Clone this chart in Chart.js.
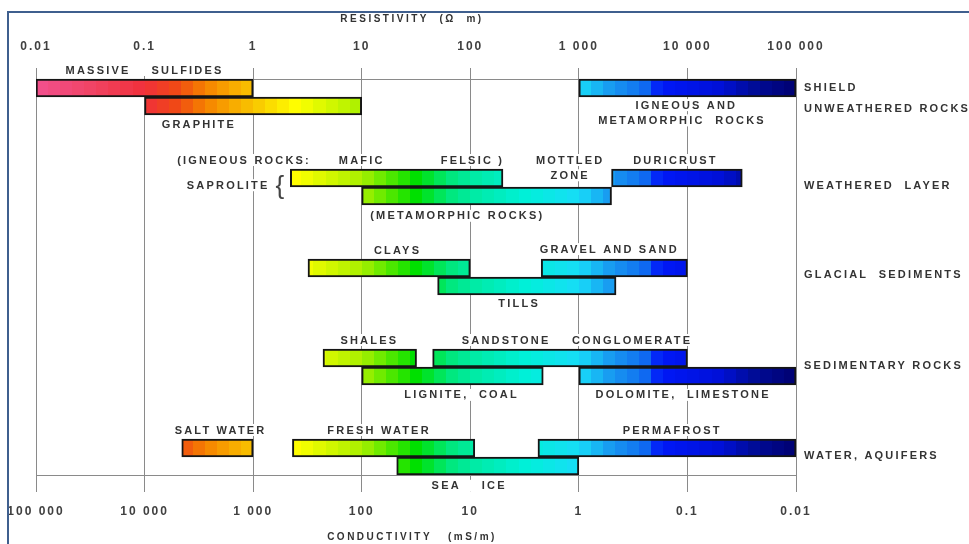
<!DOCTYPE html>
<html>
<head>
<meta charset="utf-8">
<script src="https://cdn.jsdelivr.net/npm/chart.js@4.4.0/dist/chart.umd.min.js"></script>
<style>
  html, body { margin: 0; padding: 0; background: #fff; }
  #wrap { width: 969px; height: 544px; position: relative; overflow: hidden; }
</style>
</head>
<body>
<div id="wrap"><canvas id="rockChart" width="969" height="544"></canvas></div>
<script>
// Resistividad en ohm-m, escala logaritmica; rowPos = fila (grupo + sub-fila)
const rockNames = ['Massive sulfides', 'Graphite', 'Shield', 'Saprolite (igneous)', 'Saprolite (metamorphic)', 'Duricrust',
  'Clays', 'Gravel and sand', 'Tills', 'Shales', 'Sandstone conglomerate', 'Lignite coal', 'Dolomite limestone',
  'Salt water', 'Fresh water', 'Permafrost', 'Sea ice'];
const resLow  = [0.01, 0.1, 1000, 2.2, 10, 2000, 3.2, 450, 50, 4.4, 45, 10, 1000, 0.22, 2.3, 420, 21];
const resHigh = [1, 10, 100000, 200, 2000, 32000, 100, 10000, 2200, 32, 10000, 470, 100000, 1, 110, 100000, 1000];
const rowPos  = [0, 0.2, 0, 1, 1.2, 1, 2, 2, 2.2, 3, 3, 3.2, 3.2, 4, 4, 4, 4.2];

// Ticks
const decades = [0.01, 0.1, 1, 10, 100, 1000, 10000, 100000];
const resTickLabels = ['0.01', '0.1', '1', '10', '100', '1 000', '10 000', '100 000'];
const condTickLabels = ['100 000', '10 000', '1 000', '100', '10', '1', '0.1', '0.01'];

// Grupos (texto a la derecha)
const groupNames = ['SHIELD', 'UNWEATHERED ROCKS', 'WEATHERED  LAYER', 'GLACIAL  SEDIMENTS', 'SEDIMENTARY ROCKS', 'WATER, AQUIFERS'];
const groupRows = [0, 0.23, 1.09, 2.08, 3.09, 4.09];

// Etiquetas dentro del grafico: texto, log10(resistividad), fila, alineacion
const notes = [
  ['MASSIVE    SULFIDES', -1.0, -0.2, 'center'],
  ['GRAPHITE', -0.5, 0.4, 'center'],
  ['IGNEOUS AND', 3.99, 0.19, 'center'],
  ['METAMORPHIC  ROCKS', 3.95, 0.36, 'center'],
  ['(IGNEOUS ROCKS:', -0.70, 0.8, 'left'],
  ['MAFIC', 1.0, 0.8, 'center'],
  ['FELSIC )', 2.02, 0.8, 'center'],
  ['MOTTLED', 2.92, 0.8, 'center'],
  ['ZONE', 2.92, 0.97, 'center'],
  ['DURICRUST', 3.89, 0.8, 'center'],
  ['SAPROLITE', -0.23, 1.08, 'center'],
  ['(METAMORPHIC ROCKS)', 1.88, 1.42, 'center'],
  ['CLAYS', 1.33, 1.8, 'center'],
  ['GRAVEL AND SAND', 3.28, 1.79, 'center'],
  ['TILLS', 2.45, 2.39, 'center'],
  ['SHALES', 1.07, 2.8, 'center'],
  ['SANDSTONE', 2.33, 2.8, 'center'],
  ['CONGLOMERATE', 3.49, 2.8, 'center'],
  ['LIGNITE,  COAL', 1.92, 3.41, 'center'],
  ['DOLOMITE,  LIMESTONE', 3.96, 3.41, 'center'],
  ['SALT WATER', -0.3, 3.8, 'center'],
  ['FRESH WATER', 1.16, 3.8, 'center'],
  ['PERMAFROST', 3.86, 3.8, 'center'],
  ['SEA    ICE', 1.99, 4.42, 'center']
];

// Colores segun log10(resistividad)
const colorStops = [
  [-2.0, '#f2508e'], [-1.5, '#f04466'], [-1.0, '#f0303a'], [-0.7, '#f04a14'], [-0.45, '#f58000'],
  [-0.2, '#f8a800'], [0.0, '#f8c400'], [0.4, '#ffff00'], [1.0, '#a8f000'], [1.5, '#00e000'],
  [1.8, '#00e878'], [2.0, '#00eaa0'], [2.5, '#00f0d8'], [3.0, '#18dcf8'], [3.3, '#1898f0'],
  [3.6, '#1070f0'], [3.75, '#0018f8'], [4.3, '#0010d8'], [4.6, '#000c98'], [5.0, '#000070']
];

function hexToRgb(h) {
  const n = parseInt(h.slice(1), 16);
  return [(n >> 16) & 255, (n >> 8) & 255, n & 255];
}

function colorAt(lg) {
  for (let i = 1; i < colorStops.length; i++) {
    const [l0, c0] = colorStops[i - 1];
    const [l1, c1] = colorStops[i];
    if (lg <= l1) {
      const t = Math.max(0, (lg - l0) / (l1 - l0));
      const a = hexToRgb(c0), b = hexToRgb(c1);
      return 'rgb(' + a.map((v, j) => Math.round(v + (b[j] - v) * t)).join(',') + ')';
    }
  }
  return colorStops[colorStops.length - 1][1];
}

let gradCache = null;
function bandGradient(chart) {
  const area = chart.chartArea;
  if (!area) return '#cccccc';
  if (gradCache && gradCache.left === area.left && gradCache.right === area.right) return gradCache.g;
  const g = chart.ctx.createLinearGradient(area.left, 0, area.right, 0);
  const bands = 63; // 9 bandas por decada
  for (let k = 0; k < bands; k++) {
    const c = colorAt(-2 + (k + 0.5) * 7 / bands);
    g.addColorStop(k / bands, c);
    g.addColorStop((k + 1) / bands, c);
  }
  gradCache = { left: area.left, right: area.right, g };
  return g;
}

const labelFont = 'bold 11px "Liberation Sans", Arial, sans-serif';

const overlay = {
  id: 'overlay',
  beforeDraw(chart) {
    chart.ctx.letterSpacing = '2px';
  },
  beforeDatasetsDraw(chart) {
    const { ctx, chartArea, scales } = chart;
    ctx.save();
    ctx.strokeStyle = '#8a8a8a';
    ctx.lineWidth = 1;
    [-0.1, 4.3].forEach(r => {
      const py = Math.round(scales.y.getPixelForValue(r)) + 0.5;
      ctx.beginPath();
      ctx.moveTo(chartArea.left, py);
      ctx.lineTo(chartArea.right, py);
      ctx.stroke();
    });
    ctx.restore();
  },
  afterDatasetsDraw(chart) {
    const { ctx, chartArea, scales } = chart;
    ctx.save();
    ctx.font = labelFont;
    ctx.letterSpacing = '2.2px';
    ctx.textBaseline = 'middle';
    notes.forEach(([txt, lg, row, align]) => {
      const px = scales.x.getPixelForValue(Math.pow(10, lg));
      const py = scales.y.getPixelForValue(row);
      const w = ctx.measureText(txt).width;
      const x0 = align === 'left' ? px : px - w / 2;
      ctx.fillStyle = '#fff';
      ctx.fillRect(x0 - 2, py - 6, w + 3, 12);
      ctx.fillStyle = '#333';
      ctx.textAlign = 'left';
      ctx.fillText(txt, x0, py + 0.5);
    });
    // llave de saprolita
    ctx.font = '26px "Liberation Sans", Arial, sans-serif';
    ctx.letterSpacing = '0px';
    ctx.textAlign = 'center';
    ctx.fillStyle = '#444';
    ctx.fillText('{', scales.x.getPixelForValue(Math.pow(10, 0.247)), scales.y.getPixelForValue(1.1));
    // grupos a la derecha
    ctx.font = labelFont;
    ctx.letterSpacing = '2.2px';
    ctx.textAlign = 'left';
    ctx.fillStyle = '#333';
    groupNames.forEach((g, i) => {
      ctx.fillText(g, chartArea.right + 8, scales.y.getPixelForValue(groupRows[i]));
    });
    ctx.restore();
  },
  afterDraw(chart) {
    const { ctx, chartArea } = chart;
    const cx = (chartArea.left + chartArea.right) / 2 - 4;
    ctx.save();
    ctx.font = 'bold 10px "Liberation Sans", Arial, sans-serif';
    ctx.letterSpacing = '2.5px';
    ctx.fillStyle = '#333';
    ctx.textAlign = 'center';
    ctx.textBaseline = 'middle';
    ctx.fillText('RESISTIVITY  (\u03A9  m)', cx, 19);
    ctx.fillText('CONDUCTIVITY   (mS/m)', cx, 537);
    // marco
    ctx.letterSpacing = '0px';
    ctx.strokeStyle = '#3f5f8e';
    ctx.lineWidth = 2;
    ctx.strokeRect(8, 12, 1100, 700);
    ctx.restore();
  }
};

const ctx = document.getElementById('rockChart').getContext('2d');
const chart = new Chart(ctx, {
  type: 'bar',
  data: {
    labels: rockNames,
    datasets: [{
      label: 'Resistivity',
      data: rockNames.map((n, i) => ({ x: [resLow[i], resHigh[i]], y: rowPos[i] })),
      backgroundColor: (c) => bandGradient(c.chart),
      borderColor: '#151515',
      borderWidth: 2,
      borderSkipped: false,
      barThickness: 18,
      grouped: false
    }]
  },
  options: {
    indexAxis: 'y',
    responsive: false,
    animation: false,
    layout: { padding: { left: 36, right: 173, top: 25.6, bottom: 13.6 } },
    plugins: { legend: { display: false }, tooltip: { enabled: false } },
    scales: {
      x: {
        type: 'logarithmic',
        position: 'top',
        min: 0.01,
        max: 100000,
        afterBuildTicks: (axis) => { axis.ticks = decades.map(v => ({ value: v, major: true })); },
        grid: { color: '#8a8a8a', lineWidth: 1, drawTicks: false },
        border: { display: false },
        ticks: {
          padding: 14,
          color: '#404040',
          font: { family: '"Liberation Sans", Arial, sans-serif', size: 12, weight: 'bold' },
          maxRotation: 0,
          autoSkip: false,
          callback: (v) => resTickLabels[decades.indexOf(v)]
        }
      },
      x2: {
        type: 'logarithmic',
        position: 'bottom',
        min: 0.01,
        max: 100000,
        afterBuildTicks: (axis) => { axis.ticks = decades.map(v => ({ value: v, major: true })); },
        grid: { display: false, drawTicks: false },
        border: { display: false },
        ticks: {
          padding: 12,
          color: '#404040',
          font: { family: '"Liberation Sans", Arial, sans-serif', size: 12, weight: 'bold' },
          maxRotation: 0,
          autoSkip: false,
          callback: (v) => condTickLabels[decades.indexOf(v)]
        }
      },
      y: {
        type: 'linear',
        reverse: true,
        offset: false,
        min: -0.2222,
        max: 4.4889,
        display: false
      }
    }
  },
  plugins: [overlay]
});
</script>
</body>
</html>
